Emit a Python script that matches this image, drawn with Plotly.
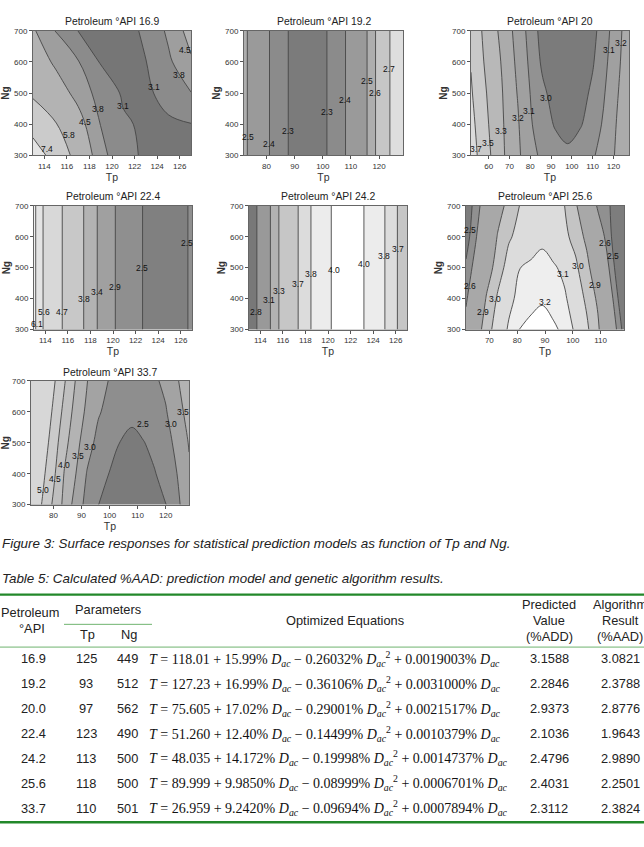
import plotly.graph_objects as go

W, H = 644, 847

# ---------------- contour panel data ----------------
api_titles = ["16.9", "19.2", "20", "22.4", "24.2", "25.6", "33.7"]
ng_rows = [300, 400, 500, 600, 700]
ng_flat = [300, 700]

# API 16.9
tp_169 = [113, 115, 117, 119, 121, 123, 125, 127]
z_169 = [
    [8.3, 6.73, 5.31, 4.03, 3.30, 3.0, 3.0, 3.05],
    [6.7, 5.87, 4.83, 3.78, 3.18, 3.0, 3.0, 3.08],
    [5.6, 4.93, 4.25, 3.51, 3.02, 2.98, 3.33, 3.78],
    [5.0, 4.37, 3.84, 3.05, 2.95, 3.09, 3.67, 4.4],
    [4.6, 3.77, 3.09, 2.95, 2.95, 3.17, 3.94, 4.8],
]
levels_169 = [3.1, 3.8, 4.5, 5.8, 7.4]
grays_169 = ["#767676", "#8b8b8b", "#9e9e9e", "#b3b3b3", "#cbcbcb", "#e4e4e4"]
labels_169 = [7.4, 5.8, 4.5, 3.8, 3.1, 3.1, 3.8, 4.5]

# API 19.2 (bands depend on Tp only)
tp_192 = [72, 73.1, 81.0, 87.5, 94.5, 101.4, 108.0, 115.7, 118.7, 123.8, 128.5]
z_192 = [2.52, 2.501, 2.401, 2.301, 2.27, 2.299, 2.399, 2.499, 2.599, 2.699, 2.8]
levels_192 = [2.3, 2.4, 2.5, 2.6, 2.7]
grays_192 = ["#7b7b7b", "#8b8b8b", "#9a9a9a", "#aeaeae", "#c6c6c6", "#dedede"]
labels_192 = [2.5, 2.4, 2.3, 2.3, 2.4, 2.5, 2.6, 2.7]

# API 20
tp_20 = [51.5, 56, 62, 68, 74, 80, 86, 92, 98, 104, 110, 116, 122, 127.5]
z_20 = [
    [3.8, 3.65, 3.47, 3.29, 3.22, 3.13, 3.08, 3.05, 3.03, 3.06, 3.09, 3.14, 3.22, 3.28],
    [3.76, 3.62, 3.44, 3.28, 3.21, 3.11, 3.05, 2.99, 2.95, 2.99, 3.05, 3.12, 3.21, 3.28],
    [3.72, 3.59, 3.41, 3.27, 3.195, 3.099, 3.02, 2.96, 2.9, 2.96, 3.02, 3.101, 3.195, 3.27],
    [3.69, 3.55, 3.37, 3.26, 3.18, 3.08, 2.98, 2.93, 2.87, 2.9, 2.99, 3.08, 3.18, 3.26],
    [3.67, 3.52, 3.34, 3.24, 3.17, 3.06, 2.96, 2.89, 2.82, 2.86, 2.97, 3.06, 3.17, 3.25],
]
levels_20 = [3.0, 3.1, 3.2, 3.3, 3.5, 3.7]
grays_20 = ["#7b7b7b", "#929292", "#a0a0a0", "#ababab", "#b8b8b8", "#c9c9c9", "#dbdbdb"]
labels_20 = [3.7, 3.5, 3.3, 3.2, 3.1, 3.0, 3.1, 3.2]

# API 22.4 (bands depend on Tp only)
tp_224 = [113, 113.15, 113.8, 115.5, 117.4, 118.6, 120.2, 122.6, 124.6, 126.6, 127]
z_224 = [6.2, 6.101, 5.601, 4.701, 3.801, 3.401, 2.901, 2.501, 2.4, 2.499, 2.51]
levels_224 = [2.5, 2.9, 3.4, 3.8, 4.7, 5.6, 6.1]
grays_224 = ["#808080", "#8f8f8f", "#a0a0a0", "#b3b3b3", "#c8c8c8", "#d8d8d8", "#e4e4e4", "#f0f0f0"]
labels_224 = [6.1, 5.6, 4.7, 3.8, 3.4, 2.9, 2.5, 2.5]

# API 24.2 (bands depend on Tp only)
tp_242 = [113, 113.7, 114.9, 115.65, 117.36, 118.5, 120.3, 121.75, 123.2, 125.05, 126.16, 127]
z_242 = [2.6, 2.801, 3.101, 3.301, 3.701, 3.801, 4.001, 4.08, 3.999, 3.799, 3.699, 3.55]
levels_242 = [2.8, 3.1, 3.3, 3.7, 3.8, 4.0]
grays_242 = ["#787878", "#999999", "#b2b2b2", "#c6c6c6", "#dcdcdc", "#ececec", "#ffffff"]
labels_242 = [2.8, 3.1, 3.3, 3.7, 3.8, 4.0, 4.0, 3.8, 3.7]

# API 25.6
tp_256 = [61.6, 65, 69, 73, 77, 81, 85, 89, 93, 97, 101, 105, 109, 113, 117, 118.4]
z_256 = [
    [2.655, 2.825, 2.964, 3.042, 3.111, 3.206, 3.237, 3.253, 3.222, 3.172, 3.079, 3.018, 2.922, 2.74, 2.533, 2.456],
    [2.58, 2.733, 2.913, 3.012, 3.078, 3.124, 3.159, 3.185, 3.149, 3.112, 3.054, 2.982, 2.88, 2.676, 2.46, 2.38],
    [2.52, 2.646, 2.831, 2.958, 3.035, 3.099, 3.116, 3.13, 3.111, 3.08, 3.017, 2.938, 2.794, 2.599, 2.4, 2.33],
    [2.448, 2.584, 2.752, 2.91, 2.99, 3.025, 3.055, 3.08, 3.048, 3.019, 2.972, 2.87, 2.696, 2.533, 2.385, 2.333],
    [2.427, 2.54, 2.686, 2.842, 2.942, 3.003, 3.026, 3.05, 3.026, 3.001, 2.921, 2.75, 2.581, 2.507, 2.433, 2.407],
]
levels_256 = [2.5, 2.6, 2.9, 3.0, 3.1, 3.2]
grays_256 = ["#7d7d7d", "#909090", "#a8a8a8", "#c4c4c4", "#dcdcdc", "#eeeeee", "#ffffff"]
labels_256 = [2.5, 2.6, 2.9, 3.0, 3.2, 3.1, 3.0, 2.9, 2.6, 2.5]

# API 33.7
tp_337 = [72, 76, 80, 84, 88, 92, 96, 100, 104, 108, 112, 116, 120, 124, 128.3]
z_337 = [
    [5.45, 4.97, 4.417, 3.857, 3.286, 2.833, 2.502, 2.433, 2.367, 2.3, 2.362, 2.424, 2.486, 2.869, 3.364],
    [5.6, 5.13, 4.605, 3.955, 3.502, 2.966, 2.692, 2.487, 2.443, 2.4, 2.438, 2.477, 2.643, 2.998, 3.43],
    [5.7, 5.3, 4.757, 4.15, 3.663, 3.195, 2.859, 2.624, 2.484, 2.45, 2.482, 2.605, 2.837, 3.115, 3.53],
    [5.8, 5.47, 4.917, 4.348, 3.811, 3.395, 3.044, 2.863, 2.707, 2.55, 2.688, 2.827, 2.965, 3.283, 3.689],
    [5.9, 5.64, 5.083, 4.528, 3.966, 3.511, 3.209, 2.969, 2.866, 2.76, 2.835, 2.932, 3.102, 3.44, 3.86],
]
levels_337 = [2.5, 3.0, 3.5, 4.0, 4.5, 5.0]
grays_337 = ["#7b7b7b", "#8e8e8e", "#a3a3a3", "#b3b3b3", "#bfbfbf", "#cacaca", "#d7d7d7"]
labels_337 = [5.0, 4.5, 4.0, 3.5, 3.0, 2.5, 3.0, 3.5]

# ---------------- table data ----------------
tab_api = ["16.9", "19.2", "20.0", "22.4", "24.2", "25.6", "33.7"]
tab_tp = [125, 93, 97, 123, 113, 118, 110]
tab_ng = [449, 512, 562, 490, 500, 500, 501]
eq_a = ["118.01", "127.23", "75.605", "51.260", "48.035", "89.999", "26.959"]
eq_b = ["15.99", "16.99", "17.02", "12.40", "14.172", "9.9850", "9.2420"]
eq_c = ["0.26032", "0.36106", "0.29001", "0.14499", "0.19998", "0.08999", "0.09694"]
eq_d = ["0.0019003", "0.0031000", "0.0021517", "0.0010379", "0.0014737", "0.0006701", "0.0007894"]
predicted = ["3.1588", "2.2846", "2.9373", "2.1036", "2.4796", "2.4031", "2.3112"]
algorithm = ["3.0821", "2.3788", "2.8776", "1.9643", "2.9890", "2.2501", "2.3824"]

# ---------------- layout (positions only) ----------------
# where each contour label sits, in (Tp, Ng) axis units
label_pos = [
    [(114.2, 319), (116.2, 365), (117.6, 407), (118.8, 448), (121.0, 460), (123.7, 518), (125.9, 557), (126.5, 639)],
    [(73.3, 358), (81.0, 338), (87.5, 377), (101.4, 439), (108.0, 478), (115.7, 539), (118.5, 499), (123.5, 578)],
    [(53.9, 319), (59.5, 340), (65.9, 379), (74.3, 420), (79.5, 441), (87.5, 483), (117.9, 639), (123.5, 660)],
    [(113.3, 319), (113.9, 358), (115.5, 358), (117.4, 399), (118.6, 420), (120.2, 438), (122.6, 498), (126.6, 580)],
    [(113.6, 358), (114.8, 394), (115.7, 425), (117.3, 447), (118.5, 481), (120.5, 493), (123.2, 511), (125.0, 539), (126.2, 561)],
    [(63.0, 622), (63.0, 441), (67.6, 358), (72.2, 399), (90.1, 388), (96.6, 479), (102.0, 505), (108.0, 444), (111.6, 580), (114.3, 539)],
    [(76.4, 347), (80.6, 382), (83.8, 427), (88.9, 458), (93.1, 485), (112.0, 560), (121.8, 560), (126.3, 600)],
]

def px(x):
    return x / W

def py(y):
    return 1 - y / H

panels = [
    dict(tp=tp_169, ng=ng_rows, z=z_169, lev=levels_169, gr=grays_169, lab=labels_169, dt=2, box=(33, 27, 191, 153)),
    dict(tp=tp_192, ng=ng_flat, z=[z_192, z_192], lev=levels_192, gr=grays_192, lab=labels_192, dt=10, box=(244, 27, 403, 153)),
    dict(tp=tp_20, ng=ng_rows, z=z_20, lev=levels_20, gr=grays_20, lab=labels_20, dt=10, box=(471, 27, 629, 153)),
    dict(tp=tp_224, ng=ng_flat, z=[z_224, z_224], lev=levels_224, gr=grays_224, lab=labels_224, dt=2, box=(34, 204, 192, 329)),
    dict(tp=tp_242, ng=ng_flat, z=[z_242, z_242], lev=levels_242, gr=grays_242, lab=labels_242, dt=2, box=(249, 204, 407, 329)),
    dict(tp=tp_256, ng=ng_rows, z=z_256, lev=levels_256, gr=grays_256, lab=labels_256, dt=10, box=(466, 204, 624, 329)),
    dict(tp=tp_337, ng=ng_rows, z=z_337, lev=levels_337, gr=grays_337, lab=labels_337, dt=10, box=(31, 381, 189, 506)),
]

fig = go.Figure()
shapes = []
annotations = []
SANS = "Liberation Sans, Arial, sans-serif"
SERIF = "Liberation Serif, Times New Roman, serif"

for i, p in enumerate(panels):
    n = i + 1
    xa = "x" if n == 1 else f"x{n}"
    ya = "y" if n == 1 else f"y{n}"
    x0, y0, x1, y1 = p["box"]
    # lowest band colour as the panel background
    shapes.append(dict(type="rect", xref=f"{xa} domain", yref=f"{ya} domain",
                       x0=0, x1=1, y0=0, y1=1, fillcolor=p["gr"][0],
                       line=dict(width=0), layer="below"))
    # each level: shade the region above it (stacked, lighter as value grows)
    for k, lv in enumerate(p["lev"]):
        fig.add_trace(go.Contour(
            x=p["tp"], y=p["ng"], z=p["z"], xaxis=xa, yaxis=ya,
            contours=dict(type="constraint", operation="<", value=lv, showlabels=False),
            fillcolor=p["gr"][k + 1],
            line=dict(color="#464646", width=0.9),
            showscale=False, hoverinfo="skip", showlegend=False))
    for val, (lx, ly) in zip(p["lab"], label_pos[i]):
        annotations.append(dict(text=f"{val:.1f}", x=lx, y=ly, xref=xa, yref=ya,
                                showarrow=False, xanchor="center", yanchor="middle",
                                font=dict(size=8.5, color="#111", family=SANS)))
    axx = dict(domain=[px(x0), px(x1)], range=[min(p["tp"]), max(p["tp"])],
               anchor=ya, dtick=p["dt"], ticks="outside", ticklen=3,
               tickcolor="#555", showline=True, mirror=True, linecolor="#666",
               linewidth=1, showgrid=False, zeroline=False,
               tickfont=dict(size=8, color="#333", family=SANS),
               title=dict(text="Tp", font=dict(size=10.5, color="#333", family=SANS), standoff=3))
    axy = dict(domain=[py(y1), py(y0)], range=[300, 700], anchor=xa, dtick=100,
               ticks="outside", ticklen=3, tickcolor="#555", showline=True, mirror=True,
               linecolor="#666", linewidth=1, showgrid=False, zeroline=False,
               tickfont=dict(size=8, color="#333", family=SANS),
               title=dict(text="<b>Ng</b>", font=dict(size=10, color="#333", family=SANS), standoff=2))
    fig.update_layout(**{("xaxis" if n == 1 else f"xaxis{n}"): axx,
                         ("yaxis" if n == 1 else f"yaxis{n}"): axy})
    annotations.append(dict(text=f"Petroleum °API {api_titles[i]}", x=px((x0 + x1) / 2),
                            y=py(y0 - 9), xref="paper", yref="paper", showarrow=False,
                            xanchor="center", yanchor="middle",
                            font=dict(size=10.4, color="#222", family=SANS)))

def ann(text, x, y, size=12.8, family=SANS, xanchor="center", color="#222"):
    annotations.append(dict(text=text, x=px(x), y=py(y), xref="paper", yref="paper",
                            showarrow=False, xanchor=xanchor, yanchor="middle",
                            font=dict(size=size, color=color, family=family)))

# captions
ann("<i>Figure 3: Surface responses for statistical prediction models as function of Tp and Ng.</i>",
    0, 545, size=13.4, xanchor="left")
ann("<i>Table 5: Calculated %AAD: prediction model and genetic algorithm results.</i>",
    0, 581, size=13.4, xanchor="left")

# table header
ann("Petroleum", 30, 615)
ann("°API", 32, 631)
ann("Parameters", 108, 612)
ann("Tp", 87, 637)
ann("Ng", 129, 637)
ann("Optimized Equations", 345, 623)
ann("Predicted", 549, 607)
ann("Value", 549, 623)
ann("(%ADD)", 549, 639)
ann("Algorithm", 620, 607)
ann("Result", 620, 623)
ann("(%AAD)", 620, 639)

GREEN = "#22882a"
LGREEN = "#6fb46f"
shapes.append(dict(type="line", xref="paper", yref="paper", x0=0, x1=1, y0=py(597), y1=py(597),
                   line=dict(color=GREEN, width=2.2)))
shapes.append(dict(type="line", xref="paper", yref="paper", x0=px(64), x1=px(152), y0=py(627), y1=py(627),
                   line=dict(color=LGREEN, width=1)))
shapes.append(dict(type="line", xref="paper", yref="paper", x0=0, x1=1, y0=py(650), y1=py(650),
                   line=dict(color=LGREEN, width=1)))
shapes.append(dict(type="line", xref="paper", yref="paper", x0=0, x1=1, y0=py(827), y1=py(827),
                   line=dict(color=GREEN, width=2.5)))

D = "<i>D</i><sub><i>ac</i></sub>"
row_y0, row_dy = 662, 25.15
for r in range(len(tab_api)):
    y = row_y0 + r * row_dy
    ann(tab_api[r], 33, y)
    ann(str(tab_tp[r]), 86, y)
    ann(str(tab_ng[r]), 128, y)
    eq = (f"<i>T</i> = {eq_a[r]} + {eq_b[r]}% {D} − {eq_c[r]}% {D}<sup>2</sup> + {eq_d[r]}% {D}")
    ann(eq, 147, y, size=14, family=SERIF, xanchor="left", color="#111")
    ann(predicted[r], 549, y)
    ann(algorithm[r], 620, y)

fig.update_layout(width=W, height=H, autosize=False, margin=dict(l=0, r=0, t=0, b=0),
                  paper_bgcolor="white", plot_bgcolor="white", showlegend=False,
                  shapes=shapes, annotations=annotations,
                  font=dict(family=SANS, color="#222"))

fig.write_html("out.html")
